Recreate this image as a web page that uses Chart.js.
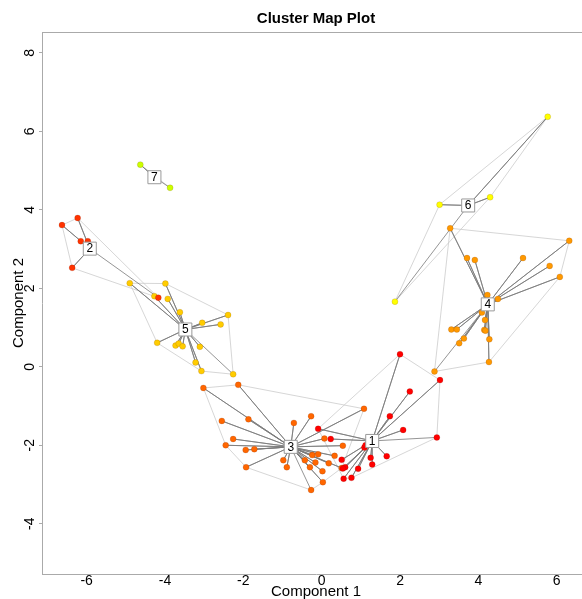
<!DOCTYPE html>
<html>
<head>
<meta charset="utf-8">
<script src="https://cdn.jsdelivr.net/npm/chart.js@4.4.1/dist/chart.umd.min.js"></script>
<style>
html, body { margin: 0; padding: 0; overflow: hidden; background: #fff; }
canvas { display: block; }
</style>
</head>
<body>
<canvas id="clusterMap" width="590" height="599"></canvas>
<script>
// cluster members, [component 1, component 2]
const cluster1 = [[2.25, -0.63], [1.74, -1.26], [2.08, -1.61], [-0.09, -1.58], [0.23, -1.84],
    [1.09, -2.06], [1.12, -2.00], [0.51, -2.37], [0.60, -2.56], [0.54, -2.59], [1.25, -2.32],
    [1.66, -2.28], [1.29, -2.49], [0.93, -2.60], [0.56, -2.85], [0.76, -2.83], [2.00, 0.32],
    [3.02, -0.34], [2.94, -1.80]];
const cluster2 = [[-6.63, 3.61], [-6.23, 3.79], [-6.15, 3.20], [-5.97, 3.20], [-6.37, 2.52],
    [-4.17, 1.76]];
const cluster3 = [[-3.02, -0.54], [-2.13, -0.46], [1.08, -1.07], [-2.55, -1.38], [-1.87, -1.34],
    [-0.71, -1.43], [-0.27, -1.26], [-2.26, -1.84], [-2.45, -2.00], [-1.94, -2.12], [-1.72, -2.10],
    [0.07, -1.83], [0.54, -2.01], [-0.98, -2.38], [-0.89, -2.56], [-1.93, -2.56], [-0.43, -2.38],
    [-0.24, -2.25], [-0.09, -2.23], [0.33, -2.27], [-0.16, -2.44], [-0.30, -2.56], [0.18, -2.46],
    [0.02, -2.66], [0.51, -2.58], [0.03, -2.94], [-0.27, -3.14]];
const cluster4 = [[3.28, 3.53], [6.32, 3.21], [3.71, 2.77], [3.91, 2.72], [5.14, 2.77],
    [5.82, 2.57], [6.08, 2.29], [4.23, 1.83], [4.50, 1.73], [4.09, 1.38], [4.17, 1.19],
    [4.15, 0.94], [4.18, 0.92], [3.31, 0.95], [3.45, 0.95], [3.63, 0.72], [3.51, 0.60],
    [4.28, 0.70], [4.27, 0.12], [2.88, -0.12]];
const cluster5 = [[-4.90, 2.13], [-3.99, 2.12], [-4.27, 1.80], [-3.93, 1.73], [-3.62, 1.39],
    [-2.39, 1.32], [-3.05, 1.12], [-2.58, 1.08], [-4.20, 0.61], [-3.73, 0.54], [-3.65, 0.59],
    [-3.55, 0.52], [-3.11, 0.51], [-3.22, 0.11], [-3.07, -0.11], [-2.26, -0.19]];
const cluster6 = [[5.77, 6.37], [3.01, 4.13], [4.30, 4.32], [1.87, 1.66]];
const cluster7 = [[-4.63, 5.15], [-3.87, 4.56]];

const clusterNames = ['1', '2', '3', '4', '5', '6', '7'];
const clusterCenters = [[1.29, -1.89], [-5.92, 3.01], [-0.79, -2.04], [4.24, 1.59],
    [-3.48, 0.95], [3.74, 4.11], [-4.27, 4.83]];
const clusterColors = ['#FF0000', '#FF3300', '#FF6600', '#FF9900', '#FFCC00', '#FFFF00', '#CCFF00'];

const xTicks = [-6, -4, -2, 0, 2, 4, 6];
const yTicks = [-4, -2, 0, 2, 4, 6, 8];

const clusters = [cluster1, cluster2, cluster3, cluster4, cluster5, cluster6, cluster7];

function toXY(p) {
    return { x: p[0], y: p[1] };
}

// convex hull (monotone chain), closed
function hull(points) {
    const pts = points.slice().sort((a, b) => a[0] - b[0] || a[1] - b[1]);
    if (pts.length < 3) return pts;
    const cross = (o, a, b) => (a[0] - o[0]) * (b[1] - o[1]) - (a[1] - o[1]) * (b[0] - o[0]);
    const lower = [];
    for (const p of pts) {
        while (lower.length >= 2 && cross(lower[lower.length - 2], lower[lower.length - 1], p) <= 0) lower.pop();
        lower.push(p);
    }
    const upper = [];
    for (let i = pts.length - 1; i >= 0; i--) {
        const p = pts[i];
        while (upper.length >= 2 && cross(upper[upper.length - 2], upper[upper.length - 1], p) <= 0) upper.pop();
        upper.push(p);
    }
    upper.pop();
    lower.pop();
    const h = lower.concat(upper);
    h.push(h[0]);
    return h;
}

const datasets = [];

// centre boxes on top
datasets.push({
    label: 'centres',
    data: clusterCenters.map(toXY),
    pointStyle: 'rect',
    pointRadius: 9.2,
    backgroundColor: '#ffffff',
    borderColor: '#9a9a9a',
    borderWidth: 1,
    order: 0
});

clusters.forEach((pts, i) => {
    datasets.push({
        label: 'Cluster ' + clusterNames[i],
        data: pts.map(toXY),
        pointRadius: 3,
        backgroundColor: clusterColors[i],
        borderColor: 'rgba(90,30,0,0.25)',
        borderWidth: 0.6,
        order: 1
    });

    const spokes = [];
    pts.forEach(p => {
        spokes.push(toXY(clusterCenters[i]));
        spokes.push(toXY(p));
    });
    datasets.push({
        label: 'spokes ' + clusterNames[i],
        data: spokes,
        showLine: true,
        pointRadius: 0,
        borderColor: '#7a7a7a',
        borderWidth: 0.8,
        borderJoinStyle: 'round',
        order: 2
    });

    datasets.push({
        label: 'hull ' + clusterNames[i],
        data: hull(pts).map(toXY),
        showLine: true,
        pointRadius: 0,
        borderColor: '#cccccc',
        borderWidth: 0.8,
        order: 3
    });
});

const frameAndLabels = {
    id: 'frameAndLabels',
    afterDraw(chart) {
        const { ctx, chartArea, scales } = chart;
        ctx.save();
        ctx.strokeStyle = '#aaaaaa';
        ctx.lineWidth = 1;
        ctx.beginPath();
        ctx.moveTo(chartArea.left, chartArea.top + 0.5);
        ctx.lineTo(chartArea.right, chartArea.top + 0.5);
        ctx.stroke();

        ctx.fillStyle = '#000';
        ctx.font = '12px "Liberation Sans", Arial, sans-serif';
        ctx.textAlign = 'center';
        ctx.textBaseline = 'middle';
        clusterCenters.forEach((c, i) => {
            ctx.fillText(clusterNames[i], scales.x.getPixelForValue(c[0]), scales.y.getPixelForValue(c[1]) + 0.5);
        });
        ctx.restore();
    }
};

const font = { family: '"Liberation Sans", Arial, sans-serif', size: 14, lineHeight: 1 };

new Chart(document.getElementById('clusterMap').getContext('2d'), {
    type: 'scatter',
    data: { datasets: datasets },
    options: {
        responsive: false,
        animation: false,
        events: [],
        layout: { padding: 0, autoPadding: false },
        plugins: {
            legend: { display: false },
            tooltip: { enabled: false },
            title: {
                display: true,
                text: 'Cluster Map Plot',
                fullSize: false,
                color: '#000',
                font: { family: '"Liberation Sans", Arial, sans-serif', size: 15, weight: 'bold', lineHeight: 1.2 },
                padding: { top: 10, bottom: 4 }
            }
        },
        scales: {
            x: {
                type: 'linear',
                min: -7.14,
                max: 6.85,
                afterBuildTicks: s => { s.ticks = xTicks.map(v => ({ value: v })); },
                afterFit: s => { s.height = 25; },
                grid: { display: false, drawTicks: false, tickLength: 0 },
                border: { color: '#aaaaaa', width: 1 },
                ticks: { color: '#000', font: font, padding: 0, maxRotation: 0 },
                title: {
                    display: true,
                    text: 'Component 1',
                    color: '#000',
                    font: { family: '"Liberation Sans", Arial, sans-serif', size: 15, lineHeight: 1 },
                    padding: { top: 0, bottom: 0 }
                }
            },
            y: {
                type: 'linear',
                min: -5.28,
                max: 8.53,
                afterBuildTicks: s => { s.ticks = yTicks.map(v => ({ value: v })); },
                afterFit: s => { s.width = 42; },
                grid: { display: true, drawOnChartArea: false, drawTicks: true, tickLength: 3, color: '#aaaaaa' },
                border: { color: '#aaaaaa', width: 1 },
                ticks: { color: '#000', font: font, padding: 3, minRotation: 90, maxRotation: 90, crossAlign: 'center' },
                title: {
                    display: true,
                    text: 'Component 2',
                    color: '#000',
                    font: { family: '"Liberation Sans", Arial, sans-serif', size: 15, lineHeight: 1 },
                    padding: { top: 11, bottom: 0 }
                }
            }
        }
    },
    plugins: [frameAndLabels]
});
</script>
</body>
</html>
